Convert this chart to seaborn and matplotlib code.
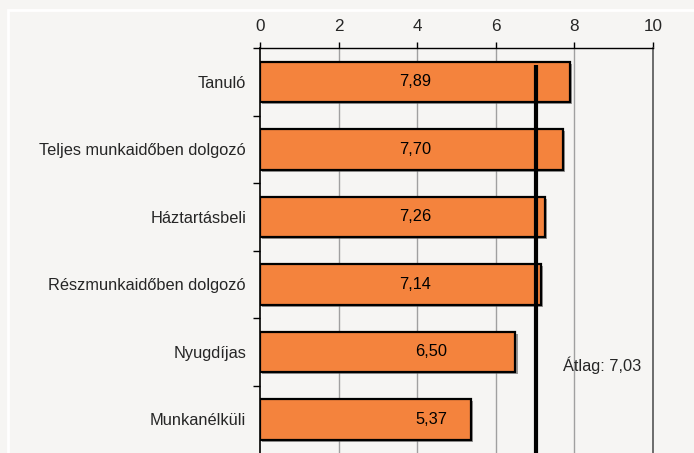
import matplotlib
matplotlib.use("Agg")
import matplotlib.pyplot as plt
import matplotlib.patheffects as pe
from matplotlib.patches import Rectangle
import seaborn as sns
import pandas as pd

# data
categories = ["Tanuló", "Teljes munkaidőben dolgozó", "Háztartásbeli",
              "Részmunkaidőben dolgozó", "Nyugdíjas", "Munkanélküli"]
values = [7.89, 7.70, 7.26, 7.14, 6.50, 5.37]
mean_value = 7.03
x_ticks = [0, 2, 4, 6, 8, 10]

bg = "#f6f5f3"
bar_color = "#f4833d"
fs = 11.8

sns.set_style("white")
plt.rcParams["font.family"] = ["Liberation Sans", "DejaVu Sans"]

df = pd.DataFrame({"cat": categories, "val": values})

fig = plt.figure(figsize=(6.94, 4.53), dpi=100, facecolor=bg)
ax = fig.add_axes([260 / 694, 0.0, 393 / 694, 1 - 48 / 453])
ax.set_facecolor(bg)

sns.barplot(data=df, x="val", y="cat", orient="h", color=bar_color,
            width=0.6, edgecolor="black", linewidth=1.6, saturation=1, ax=ax)
for bar in ax.patches:
    bar.set_path_effects([pe.SimplePatchShadow(offset=(1.5, -1.5), shadow_rgbFace="0.35", alpha=0.6),
                          pe.Normal()])
    bar.set_zorder(3)

# value labels
for i, v in enumerate(values):
    x = 3.95 if v > 7 else 4.35
    ax.text(x, i, f"{v:.2f}".replace(".", ","), ha="center", va="center",
            fontsize=fs, color="black", zorder=5)

# average line
ax.plot([mean_value, mean_value], [-0.25, 5.5], color="black", lw=3, zorder=6,
        solid_capstyle="butt")
ax.text(7.72, 4.2, f"Átlag: {mean_value:.2f}".replace(".", ","), ha="left",
        va="center", fontsize=fs, zorder=7)

ax.set_xlim(0, 10)
ax.set_ylim(5.5, -0.5)
ax.set_xticks(x_ticks)
ax.xaxis.tick_top()
ax.tick_params(axis="x", top=True, bottom=False, length=4, width=1, pad=6,
               labelsize=fs + 0.5, direction="out", color="black")
ax.set_yticks(range(len(categories)))
ax.set_yticklabels(categories)
ax.tick_params(axis="y", left=True, length=0, pad=10, labelsize=fs)
ax.set_yticks([i - 0.5 for i in range(len(categories))], minor=True)
ax.tick_params(axis="y", which="minor", left=True, length=5, width=1, color="black")
ax.set_xlabel("")
ax.set_ylabel("")

for x in x_ticks[1:-1]:
    ax.axvline(x, color="#a0a0a0", lw=1, zorder=1)

ax.spines["top"].set_visible(True)
ax.spines["top"].set_color("black")
ax.spines["top"].set_linewidth(1)
ax.spines["left"].set_color("black")
ax.spines["left"].set_linewidth(1.2)
ax.spines["right"].set_visible(True)
ax.spines["right"].set_color("#555555")
ax.spines["right"].set_linewidth(1.2)
ax.spines["bottom"].set_visible(False)

# white frame
fig.patches.append(Rectangle((8 / 694, -0.2), 1.2, 1.2 - 10 / 453,
                             transform=fig.transFigure, fill=False,
                             edgecolor="white", lw=2, zorder=0))

fig.savefig("out.png", dpi=100, facecolor=bg)
